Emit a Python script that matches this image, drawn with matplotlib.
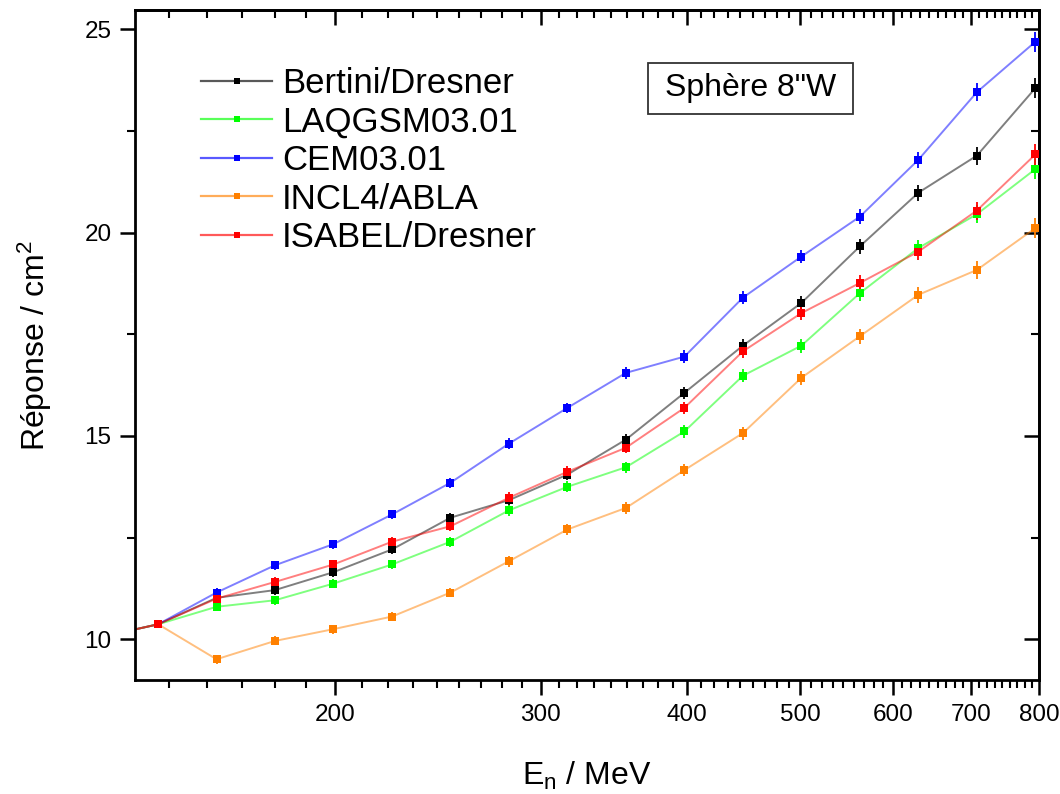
import numpy as np
import matplotlib
matplotlib.use("Agg")
import matplotlib.pyplot as plt
from matplotlib.ticker import FixedLocator, NullFormatter, FixedFormatter
from matplotlib.lines import Line2D
from matplotlib.patches import Rectangle

plt.rcParams['font.family'] = ['Liberation Sans', 'DejaVu Sans']
plt.rcParams['mathtext.fontset'] = 'custom'
plt.rcParams['mathtext.rm'] = 'Liberation Sans'
plt.rcParams['mathtext.it'] = 'Liberation Sans'

# Neutron energies (MeV)
energy = [125.9, 141.3, 158.5, 177.8, 199.5, 223.9, 251.2, 281.8, 316.2,
          354.8, 398.1, 446.7, 501.2, 562.3, 631.0, 707.9, 794.3]

bertini = [10.05, 10.37, 11.02, 11.21, 11.65, 12.21, 12.99, 13.42, 14.05,
           14.91, 16.06, 17.22, 18.27, 19.66, 20.98, 21.89, 23.55]
laqgsm = [10.05, 10.37, 10.80, 10.96, 11.37, 11.84, 12.40, 13.17, 13.75,
          14.23, 15.11, 16.48, 17.22, 18.51, 19.62, 20.45, 21.56]
cem = [10.05, 10.37, 11.15, 11.82, 12.34, 13.07, 13.85, 14.81, 15.69,
       16.55, 16.95, 18.40, 19.41, 20.39, 21.79, 23.45, 24.69]
incl = [10.05, 10.37, 9.51, 9.96, 10.25, 10.56, 11.15, 11.92, 12.70,
        13.23, 14.16, 15.07, 16.43, 17.45, 18.47, 19.08, 20.11]
isabel = [10.05, 10.37, 11.00, 11.41, 11.84, 12.40, 12.78, 13.48, 14.12,
          14.71, 15.69, 17.08, 18.02, 18.76, 19.53, 20.54, 21.92]

# Estimated statistical uncertainties (same for every model at each energy)
err = [0.10, 0.10, 0.11, 0.11, 0.11, 0.12, 0.12, 0.13, 0.13,
       0.14, 0.15, 0.16, 0.17, 0.19, 0.20, 0.22, 0.25]

labels = ['Bertini/Dresner', 'LAQGSM03.01', 'CEM03.01', 'INCL4/ABLA', 'ISABEL/Dresner']
series = [bertini, laqgsm, cem, incl, isabel]
colors = ['#000000', '#00ff00', '#0000ff', '#ff8000', '#ff0000']

x_major = [200, 300, 400, 500, 600, 700, 800]
x_major_labels = ['200', '300', '400', '500', '600', '700', '800']
y_major = [10, 15, 20, 25]
y_minor = [12.5, 17.5, 22.5]

fig = plt.figure(figsize=(10.6, 7.94), dpi=100)
ax = fig.add_axes([135/1060, 1-680/794, (1039-135)/1060, (680-10)/794])

handles = []
for vals, c, lab in zip(series, colors, labels):
    ax.plot(energy, vals, '-', color=c, lw=1.4, alpha=0.5, zorder=2)
    ax.errorbar(energy, vals, yerr=err, fmt='s', color=c, ms=5.5, mew=0,
                ecolor=c, elinewidth=1.3, capsize=4, capthick=1.3, zorder=3)
    handles.append((Line2D([], [], color=c, lw=1.6, alpha=0.65),
                    Line2D([], [], color=c, marker='s', ms=5, mew=0, ls='none')))

ax.set_xscale('log')
ax.set_xlim(135, 800)
ax.set_ylim(9, 25.47)

minor_x = [100 + 100 * k / 9 for k in range(1, 9)]
for base in [200, 300, 400, 500, 600, 700]:
    minor_x += [base + 100 * k / 9 for k in range(1, 9)]

ax.xaxis.set_major_locator(FixedLocator(x_major))
ax.xaxis.set_minor_locator(FixedLocator(minor_x))
ax.xaxis.set_minor_formatter(NullFormatter())
ax.xaxis.set_major_formatter(FixedFormatter(x_major_labels))
ax.yaxis.set_major_locator(FixedLocator(y_major))
ax.yaxis.set_minor_locator(FixedLocator(y_minor))

ax.tick_params(which='major', direction='out', length=11, width=1.8,
               labelsize=17.5, pad=6, colors='black')
ax.tick_params(which='minor', direction='out', length=6, width=1.5)
for s in ax.spines.values():
    s.set_linewidth(2)

secx = ax.secondary_xaxis('top')
secx.xaxis.set_major_locator(FixedLocator(x_major))
secx.xaxis.set_minor_locator(FixedLocator(minor_x))
secx.xaxis.set_minor_formatter(NullFormatter())
secx.tick_params(which='major', direction='in', length=11, width=1.8, labeltop=False)
secx.tick_params(which='minor', direction='in', length=6, width=1.5)
secx.spines['top'].set_linewidth(2)

secy = ax.secondary_yaxis('right')
secy.yaxis.set_major_locator(FixedLocator(y_major))
secy.yaxis.set_minor_locator(FixedLocator(y_minor))
secy.tick_params(which='major', direction='in', length=11, width=1.8, labelright=False)
secy.tick_params(which='minor', direction='in', length=6, width=1.5)
secy.spines['right'].set_linewidth(2)

ax.set_xlabel('E$_\\mathrm{n}$ / MeV', fontsize=23, labelpad=25)
ax.set_ylabel('Réponse / cm$^2$', fontsize=23, labelpad=22)

ax.legend(handles, labels, loc='upper left', bbox_to_anchor=(0.073, 0.915),
          frameon=False, fontsize=25, handlelength=2.05, handletextpad=0.28,
          labelspacing=0.16, borderpad=0, borderaxespad=0)

ax.add_patch(Rectangle((0.5675, 0.8448), 0.794 - 0.5675, 0.9209 - 0.8448,
                       transform=ax.transAxes, fill=True, fc='white',
                       ec='#333333', lw=1.3, zorder=5))
ax.text(0.681, 0.883, 'Sphère 8"W', transform=ax.transAxes, fontsize=23,
        ha='center', va='center', zorder=6)

fig.savefig('out.png', dpi=100)
